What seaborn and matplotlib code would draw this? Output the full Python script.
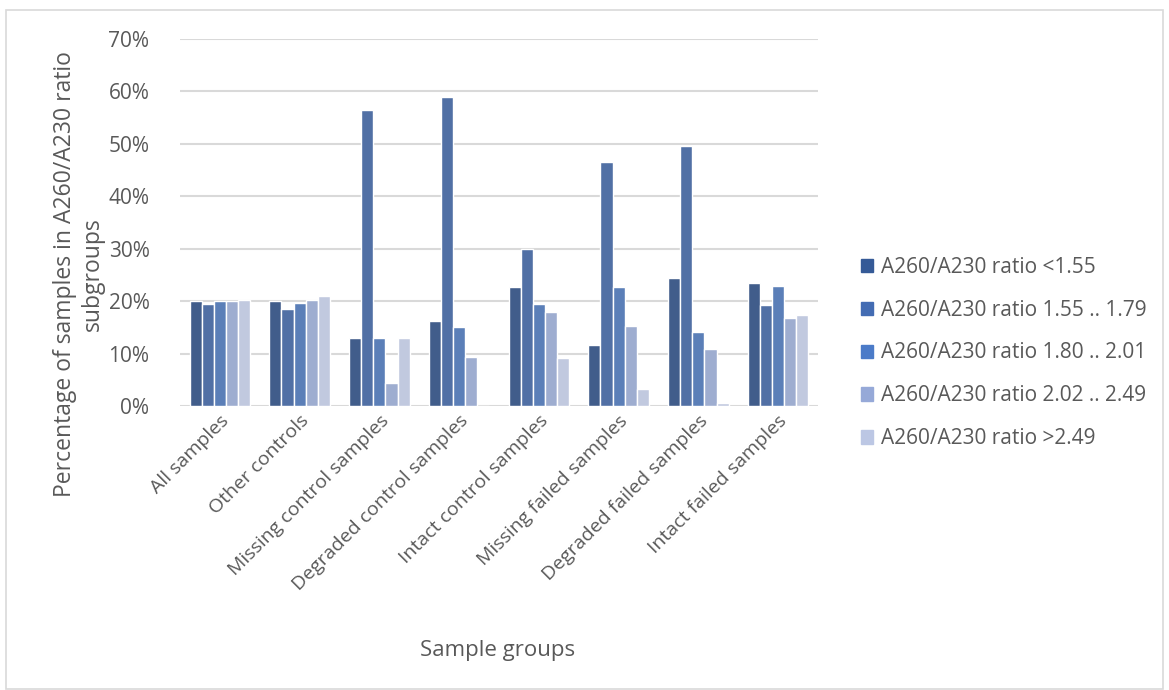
import matplotlib
matplotlib.use("Agg")
import matplotlib.pyplot as plt
import matplotlib.patches as mpatches
from matplotlib.ticker import PercentFormatter
import pandas as pd
import seaborn as sns

groups = ["All samples", "Other controls", "Missing control samples", "Degraded control samples",
          "Intact control samples", "Missing failed samples", "Degraded failed samples", "Intact failed samples"]
ratio_bins = ["A260/A230 ratio <1.55", "A260/A230 ratio 1.55 .. 1.79", "A260/A230 ratio 1.80 .. 2.01",
              "A260/A230 ratio 2.02 .. 2.49", "A260/A230 ratio >2.49"]

# percentage of samples per group, one list per ratio bin
below_155 = [20.0, 20.0, 12.9, 16.3, 22.7, 11.7, 24.4, 23.4]
r155_179 = [19.5, 18.5, 56.4, 58.9, 30.0, 46.6, 49.6, 19.2]
r180_201 = [20.0, 19.7, 12.9, 15.1, 19.5, 22.7, 14.1, 22.9]
r202_249 = [20.0, 20.2, 4.3, 9.4, 18.0, 15.3, 10.9, 16.8]
above_249 = [20.2, 20.9, 12.9, 0.0, 9.2, 3.3, 0.6, 17.3]

colors = ["#355A97", "#436CB3", "#4B7BC8", "#96A9D8", "#BCC7E4"]
text_grey = "#595959"

series = [below_155, r155_179, r180_201, r202_249, above_249]
rows = []
for name, vals in zip(ratio_bins, series):
    for g, v in zip(groups, vals):
        rows.append({"group": g, "bin": name, "pct": v})
df = pd.DataFrame(rows)

sns.set_style("white")
plt.rcParams['font.family'] = ['Open Sans', 'DejaVu Sans']

fig = plt.figure(figsize=(11.69, 6.90), dpi=100)
ax = fig.add_axes([180 / 1169, 1 - 406 / 690, 638 / 1169, 367 / 690])

sns.barplot(data=df, x="group", y="pct", hue="bin", hue_order=ratio_bins, order=groups,
            palette=colors, width=0.76, edgecolor="white", linewidth=1.0, ax=ax, legend=False)

ax.set_ylim(0, 70)
ax.set_yticks(range(0, 71, 10))
ax.yaxis.set_major_formatter(PercentFormatter(decimals=0))
ax.grid(axis="y", color="#D9D9D9", linewidth=1.5)
ax.set_axisbelow(True)
for s in ax.spines.values():
    s.set_visible(False)
ax.tick_params(axis="x", length=0, labelsize=14, labelcolor=text_grey, pad=4)
ax.tick_params(axis="y", length=0, labelsize=15, labelcolor=text_grey, pad=22)
plt.setp(ax.get_xticklabels(), rotation=45, ha="right", rotation_mode="anchor")

ax.set_ylabel("Percentage of samples in A260/A230 ratio\nsubgroups", fontsize=16.5, color=text_grey)
ax.yaxis.set_label_coords(-0.118, 0.36)
ax.set_xlabel("Sample groups", fontsize=16, color=text_grey)
ax.xaxis.set_label_coords(0.497, -0.638)

handles = [mpatches.Patch(color=c, label=l) for c, l in zip(colors, ratio_bins)]
leg = fig.legend(handles=handles, loc="center left", bbox_to_anchor=(842 / 1169, 1 - 353 / 690),
                 frameon=False, fontsize=15, labelcolor=text_grey, handlelength=0.6, handleheight=0.6,
                 handletextpad=0.35, labelspacing=1.05)

fig.patches.append(mpatches.Rectangle((6 / 1169, 0.002), 1157 / 1169, 1 - 10 / 690 - 0.002,
                                      transform=fig.transFigure, fill=False, edgecolor="#D9D9D9",
                                      linewidth=1.2))

fig.savefig("out.png", dpi=100)
